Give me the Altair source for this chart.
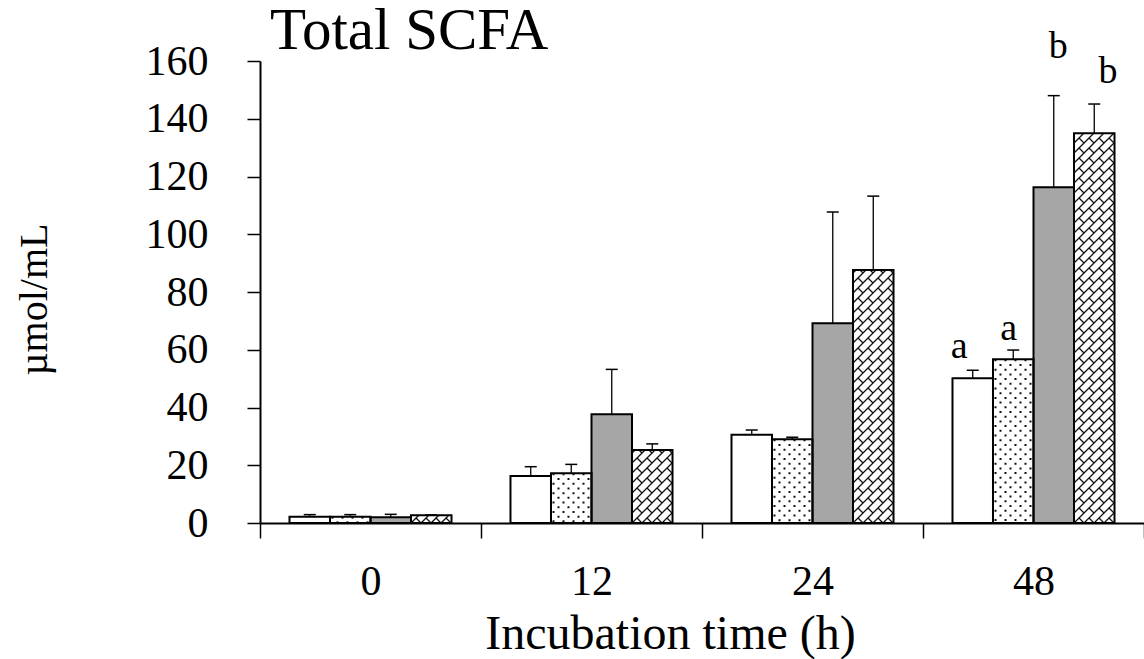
import math
import altair as alt
import pandas as pd

# ---------------- data ----------------
chart_title = "Total SCFA"
times = ["0", "12", "24", "48"]
groups = ["G1", "G2", "G3", "G4"]
fills = ["white", "white", "#a6a6a6", "white"]

mean_0 = [2.2, 2.2, 2.0, 2.7]
mean_12 = [16.3, 17.2, 37.7, 25.3]
mean_24 = [30.6, 29.0, 69.2, 87.6]
mean_48 = [50.1, 56.7, 116.3, 135.0]

sd_0 = [0.7, 0.7, 1.0, 0.1]
sd_12 = [3.2, 3.1, 15.5, 2.1]
sd_24 = [1.6, 0.7, 38.5, 25.6]
sd_48 = [2.8, 3.2, 31.7, 10.1]

letters_48 = ["a", "a", "b", "b"]
letter_y_48 = [57.1, 63.4, 161.0, 152.4]

means = [mean_0, mean_12, mean_24, mean_48]
sds = [sd_0, sd_12, sd_24, sd_48]

# ---------------- layout constants ----------------
W, H = 884, 462
YMAX = 160
PO = 0.728                    # outer padding of the offset scale (in steps)
FONT = "Liberation Serif"
band_px = W / len(times)
step_px = band_px / (len(groups) + 2 * PO)


def xu(px):
    return px / band_px


def yu(px):
    return px * YMAX / H


def bar_left_px(ti, gi):
    return ti * band_px + PO * step_px + gi * step_px


rows = []
for ti, t in enumerate(times):
    for gi, g in enumerate(groups):
        m = means[ti][gi]
        s = sds[ti][gi]
        c = bar_left_px(ti, gi) + step_px / 2
        rows.append(dict(time=t, group=g, mean=m, sd=s, top=m + s,
                         xc=xu(c), xl=xu(c - 6), xr=xu(c + 6)))
df = pd.DataFrame(rows)

lab = pd.DataFrame(dict(time=["48"] * 4, group=groups, letter=letters_48, ly=letter_y_48))
title_df = pd.DataFrame(dict(label=[chart_title]))

# dotted pattern (group 2): dashed vertical columns
dot_rows = []
for ti, t in enumerate(times):
    gi = 1
    left = bar_left_px(ti, gi)
    for k in range(8):
        dot_rows.append(dict(x=xu(left + 2.5 + 5 * k), y=means[ti][gi], y0=0, par=k % 2))
dots = pd.DataFrame(dot_rows)

# brick hatch pattern (group 4)
P, Q = 10.0, 20.0
seg_rows = []


def clip_seg(u1, w1, u2, w2, B, Hp):
    t0, t1 = 0.0, 1.0
    du, dw = u2 - u1, w2 - w1
    for p, q in ((-du, u1), (du, B - u1), (-dw, w1), (dw, Hp - w1)):
        if p == 0:
            if q < 0:
                return None
        else:
            r = q / p
            if p < 0:
                t0 = max(t0, r)
            else:
                t1 = min(t1, r)
    if t1 - t0 < 1e-6:
        return None
    return (u1 + t0 * du, w1 + t0 * dw, u1 + t1 * du, w1 + t1 * dw)


for ti, t in enumerate(times):
    gi = 3
    left = bar_left_px(ti, gi)
    B = step_px
    Hp = means[ti][gi] * H / YMAX
    kmin = int(math.floor(-B / P)) - 1
    kmax = int(math.ceil(Hp / P)) + 1
    for k in range(kmin, kmax + 1):
        s = clip_seg(-P * 3, -P * 3 + k * P, B + P * 3, B + P * 3 + k * P, B, Hp)
        if s:
            seg_rows.append(dict(x=xu(left + s[0]), y=yu(s[1]), x2=xu(left + s[2]), y2=yu(s[3]), kind="a"))
        for m in range(-2, int((Hp + B) / Q) + 3):
            c = (m + 0.5 * (k % 2)) * Q
            uA, wA = (c - k * P) / 2, (c + k * P) / 2
            uB, wB = (c - (k + 1) * P) / 2, (c + (k + 1) * P) / 2
            s = clip_seg(uA, wA, uB, wB, B, Hp)
            if s:
                seg_rows.append(dict(x=xu(left + s[0]), y=yu(s[1]), x2=xu(left + s[2]), y2=yu(s[3]), kind="b"))
segs = pd.DataFrame(seg_rows)

# ---------------- encodings ----------------
x_band = alt.X("time:N", sort=times,
               scale=alt.Scale(domain=times, paddingInner=0, paddingOuter=0),
               axis=alt.Axis(title="Incubation time (h)", tickBand="extent", labelAngle=0,
                             labelFont=FONT, labelFontSize=42, labelColor="black",
                             labelPadding=23, tickSize=15, tickColor="black", tickWidth=1.5,
                             domainColor="black", domainWidth=2, grid=False,
                             titleFont=FONT, titleFontSize=48, titleFontWeight="normal",
                             titleColor="black", titleBaseline="alphabetic",
                             titleAlign="center", titleX=410, titleY=125))
x_band_noaxis = alt.X("time:N", sort=times,
                      scale=alt.Scale(domain=times, paddingInner=0, paddingOuter=0), axis=None)
x_off = alt.XOffset("group:N", sort=groups,
                    scale=alt.Scale(domain=groups, paddingInner=0, paddingOuter=PO))
y_scale = alt.Scale(domain=[0, YMAX], nice=False, zero=True)
y_axis = alt.Axis(title="µmol/mL", values=list(range(0, 161, 20)), grid=False,
                  labelFont=FONT, labelFontSize=42, labelColor="black", labelPadding=39,
                  tickSize=13, tickColor="black", tickWidth=1.5,
                  domainColor="black", domainWidth=2,
                  titleFont=FONT, titleFontSize=40, titleFontWeight="normal", titleColor="black",
                  titleAngle=270, titleBaseline="alphabetic", titleAlign="center",
                  titleX=-214, titleY=238)
qx_scale = alt.Scale(domain=[0, len(times)], nice=False, zero=False)


def Y(field):
    return alt.Y(field, scale=y_scale, axis=y_axis)


bars = alt.Chart(df).mark_bar(strokeWidth=0).encode(
    x=x_band, xOffset=x_off,
    y=Y("mean:Q"),
    fill=alt.Fill("group:N", scale=alt.Scale(domain=groups, range=fills), legend=None),
)

dots_a = alt.Chart(dots).transform_filter("datum.par == 0").mark_rule(
    color="#111", strokeWidth=2, strokeDash=[2, 7.4]).encode(
    x=alt.X("x:Q", scale=qx_scale, axis=None),
    y=Y("y:Q"), y2="y0:Q")
dots_b = alt.Chart(dots).transform_filter("datum.par == 1").mark_rule(
    color="#111", strokeWidth=2, strokeDash=[2, 7.4], strokeDashOffset=4.7).encode(
    x=alt.X("x:Q", scale=qx_scale, axis=None),
    y=Y("y:Q"), y2="y0:Q")
hatch = alt.Chart(segs).mark_rule(color="#111", strokeWidth=1.3).encode(
    x=alt.X("x:Q", scale=qx_scale, axis=None), x2="x2:Q",
    y=Y("y:Q"), y2="y2:Q")
patterns = alt.layer(dots_a, dots_b, hatch)

outline = alt.Chart(df).mark_bar(fill="transparent", stroke="black", strokeWidth=2).encode(
    x=x_band_noaxis, xOffset=x_off,
    y=Y("mean:Q"))

err_v = alt.Chart(df).mark_rule(color="black", strokeWidth=1.3).encode(
    x=alt.X("xc:Q", scale=qx_scale, axis=None),
    y=Y("mean:Q"), y2="top:Q")
err_c = alt.Chart(df).mark_rule(color="black", strokeWidth=1.5).encode(
    x=alt.X("xl:Q", scale=qx_scale, axis=None), x2="xr:Q",
    y=Y("top:Q"))
errs = alt.layer(err_v, err_c)

letters = alt.Chart(lab).mark_text(font=FONT, fontSize=38, color="black",
                                   baseline="alphabetic", align="center").encode(
    x=x_band_noaxis, xOffset=x_off,
    y=Y("ly:Q"), text="letter:N")

title_mark = alt.Chart(title_df).mark_text(font=FONT, fontSize=59, color="black",
                                           baseline="alphabetic", align="left").encode(
    x=alt.value(10), y=alt.value(-12), text="label:N")

chart = alt.layer(bars, patterns, outline, errs, letters, title_mark).resolve_scale(
    x="independent", xOffset="independent"
).properties(
    width=W, height=H,
    background="white",
    autosize=alt.AutoSizeParams(type="none"),
    padding={"left": 260, "top": 61, "right": 0, "bottom": 136},
).configure_view(stroke=None)

chart.save("out.html", embed_options={"renderer": "svg", "actions": False})
